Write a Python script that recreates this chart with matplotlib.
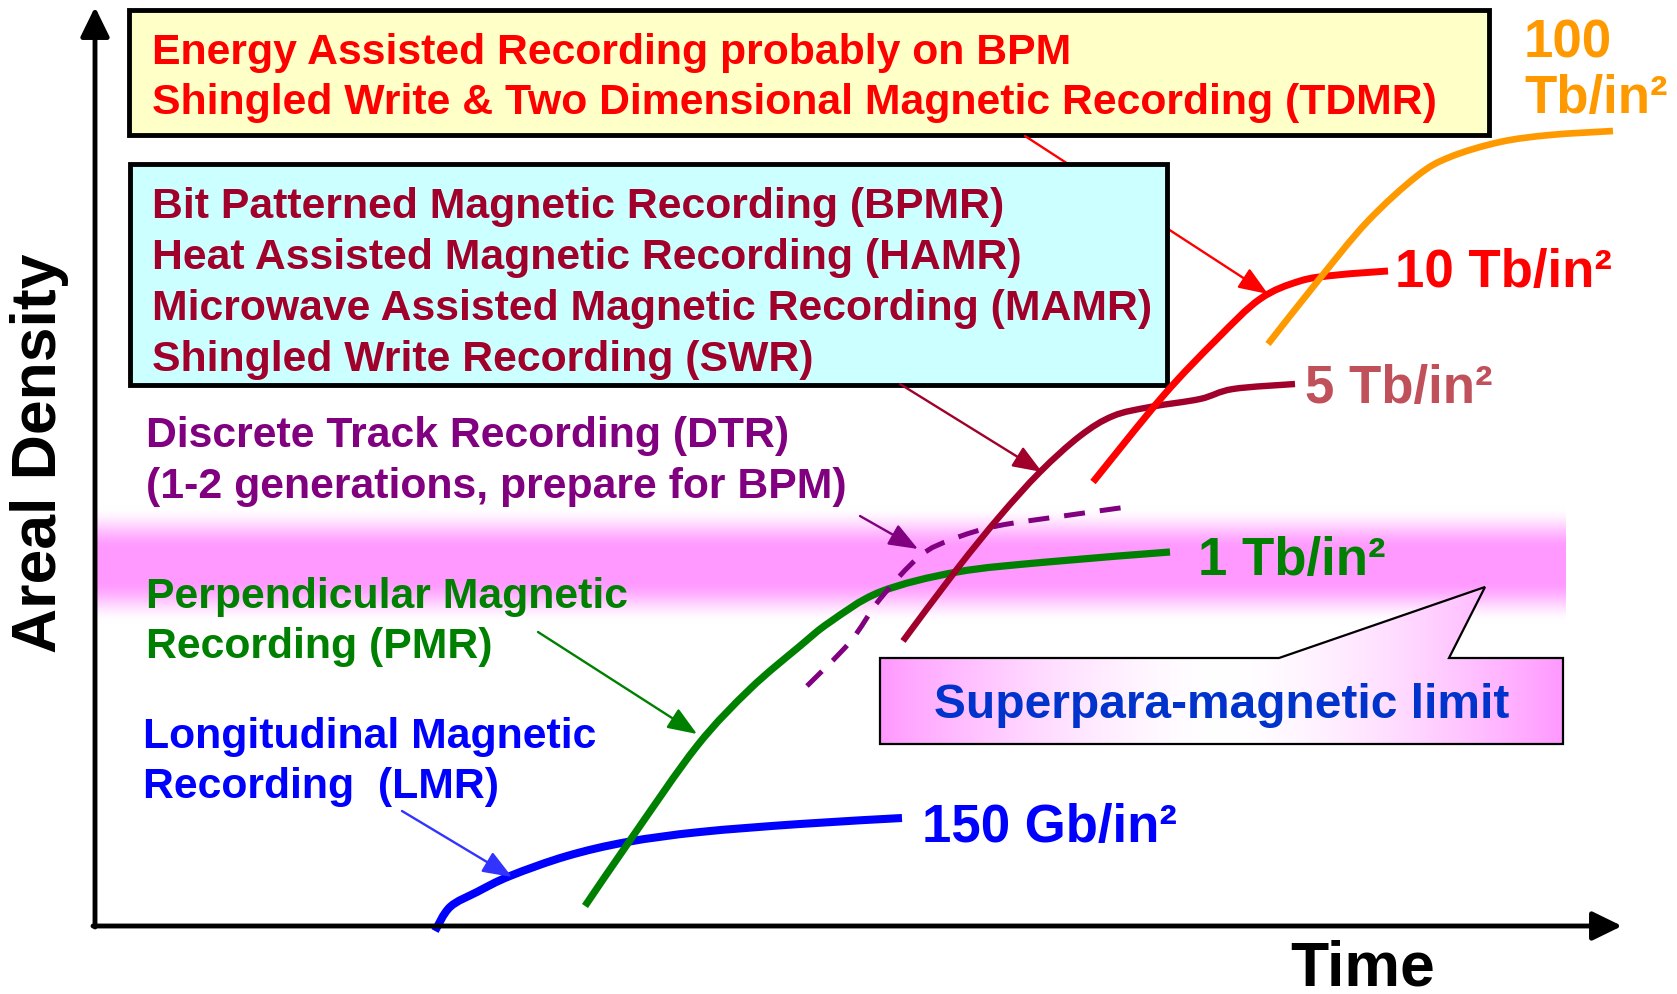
import numpy as np
import matplotlib
matplotlib.use("Agg")
import matplotlib.pyplot as plt
from matplotlib.patches import Rectangle, Polygon, PathPatch
from matplotlib.path import Path

plt.rcParams['font.family'] = ['Liberation Sans', 'DejaVu Sans']
plt.rcParams['font.weight'] = 'bold'

# curves (pixel coords, y grows downwards)
lmr_x = [435, 450, 477, 510, 567, 627, 700, 800, 902]
lmr_y = [932, 908, 893, 877, 857, 843, 833, 825, 819]

pmr_x = [585, 633, 697, 750, 800, 830, 880, 957, 1047, 1170]
pmr_y = [907, 837, 747, 690, 647, 623, 593, 573, 563, 553]

dtr_x = [807, 850, 880, 920, 953, 997, 1063, 1127]
dtr_y = [687, 643, 600, 557, 540, 527, 517, 508]

bpm_x = [903, 957, 1000, 1040, 1080, 1113, 1150, 1200, 1233, 1295]
bpm_y = [642, 570, 517, 473, 437, 417, 408, 400, 390, 385]

hamr_x = [1093, 1163, 1217, 1260, 1300, 1337, 1388]
hamr_y = [483, 397, 340, 300, 282, 276, 272]

future_x = [1268, 1317, 1367, 1417, 1450, 1500, 1550, 1613]
future_y = [345, 283, 223, 177, 158, 143, 136, 132]

yellow_lines = ["Energy Assisted Recording probably on BPM",
                "Shingled Write & Two Dimensional Magnetic Recording (TDMR)"]
cyan_lines = ["Bit Patterned Magnetic Recording (BPMR)",
              "Heat Assisted Magnetic Recording (HAMR)",
              "Microwave Assisted Magnetic Recording (MAMR)",
              "Shingled Write Recording (SWR)"]
dtr_lines = ["Discrete Track Recording (DTR)",
             "(1-2 generations, prepare for BPM)"]
pmr_lines = ["Perpendicular Magnetic", "Recording (PMR)"]
lmr_lines = ["Longitudinal Magnetic", "Recording  (LMR)"]

fig = plt.figure(figsize=(16.77, 9.95), dpi=100)
ax = fig.add_axes([0, 0, 1, 1])
ax.set_xlim(0, 1677)
ax.set_ylim(995, 0)
ax.axis('off')

pink = np.array([1.0, 0.6, 1.0])
white = np.array([1.0, 1.0, 1.0])

# superparamagnetic band
yy = np.linspace(505, 625, 240)
def smooth(t):
    t = np.clip(t, 0, 1)
    return t * t * (3 - 2 * t)
a = smooth((yy - 508) / 42) * smooth((624 - yy) / 42)
band = white * (1 - a[:, None]) + pink * a[:, None]
band = np.repeat(band[:, None, :], 2, axis=1)
ax.imshow(band, extent=[97, 1566, 625, 505], aspect='auto', zorder=0,
          interpolation='bilinear')

# axes with arrows
ax.annotate('', xy=(95, 8), xytext=(95, 928),
            arrowprops=dict(arrowstyle='-|>,head_length=0.45,head_width=0.22',
                            color='black', lw=3.5, mutation_scale=40,
                            shrinkA=0, shrinkB=0), zorder=5)
ax.annotate('', xy=(1622, 927), xytext=(93, 927),
            arrowprops=dict(arrowstyle='-|>,head_length=0.45,head_width=0.22',
                            color='black', lw=3.5, mutation_scale=40,
                            shrinkA=0, shrinkB=0), zorder=5)

ax.text(40, 453, "Areal Density", rotation=90, ha='center', va='center',
        fontsize=45, color='black')
ax.text(1290, 985, "Time", ha='left', va='baseline', fontsize=45, color='black')


def arrow(x0, y0, x1, y1, color, z=4):
    ax.annotate('', xy=(x1, y1), xytext=(x0, y0),
                arrowprops=dict(arrowstyle='-|>,head_length=0.9,head_width=0.35',
                                color=color, lw=1.7, mutation_scale=20,
                                shrinkA=0, shrinkB=0), zorder=z)


def curve(xs, ys, color, lw, dashes=None):
    # smooth path through the read points (Catmull-Rom as cubic Bezier)
    p = np.column_stack([xs, ys]).astype(float)
    ext = np.vstack([p[0], p, p[-1]])
    verts = [p[0]]
    codes = [Path.MOVETO]
    for i in range(1, len(ext) - 2):
        c1 = ext[i] + (ext[i + 1] - ext[i - 1]) / 6
        c2 = ext[i + 1] - (ext[i + 2] - ext[i]) / 6
        verts += [c1, c2, ext[i + 1]]
        codes += [Path.CURVE4] * 3
    patch = PathPatch(Path(verts, codes), fill=False, edgecolor=color, lw=lw,
                      capstyle='butt', joinstyle='round', zorder=4)
    if dashes is not None:
        patch.set_linestyle((0, dashes))
    ax.add_patch(patch)


# boxes
ax.add_patch(Rectangle((129, 11), 1360, 125, facecolor='#FFFFC8',
                       edgecolor='black', lw=3.5, zorder=3))
arrow(1025, 137, 1268, 295, '#FF0000', z=3)
ax.add_patch(Rectangle((130, 165), 1037, 221, facecolor='#CCFFFF',
                       edgecolor='black', lw=3.5, zorder=3.5))

fs = 30.8
for i, s in enumerate(yellow_lines):
    ax.text(152, 64 + 50 * i, s, ha='left', va='baseline', fontsize=fs,
            color='#FF0000', zorder=6)
for i, s in enumerate(cyan_lines):
    ax.text(152, 218 + 51 * i, s, ha='left', va='baseline', fontsize=fs,
            color='#A0002A', zorder=6)
for i, s in enumerate(dtr_lines):
    ax.text(146, 447 + 51 * i, s, ha='left', va='baseline', fontsize=fs,
            color='#800080', zorder=6)
for i, s in enumerate(pmr_lines):
    ax.text(146, 608 + 50 * i, s, ha='left', va='baseline', fontsize=fs,
            color='#008000', zorder=6)
for i, s in enumerate(lmr_lines):
    ax.text(143, 748 + 50 * i, s, ha='left', va='baseline', fontsize=fs,
            color='#0000FF', zorder=6)

# superparamagnetic callout
callout = [(880, 659), (1279, 659), (1485, 588), (1449, 659), (1563, 659),
           (1563, 745), (880, 745)]
xx = np.linspace(0, 1, 300)
w = 1 - np.abs(2 * xx - 1) ** 1.6
grad = pink * (1 - w[:, None]) + white * w[:, None]
grad = np.repeat(grad[None, :, :], 2, axis=0)
poly = Polygon(callout, closed=True, facecolor='none', edgecolor='black',
               lw=1.6, zorder=4)
im = ax.imshow(grad, extent=[880, 1563, 745, 585], aspect='auto', zorder=3.9,
               interpolation='bilinear')
ax.add_patch(poly)
im.set_clip_path(poly)
ax.text(1222, 718, "Superpara-magnetic limit", ha='center', va='baseline',
        fontsize=34.5, color='#0033CC', zorder=6)

# curves
curve(lmr_x, lmr_y, '#0000FF', 5.8)
curve(pmr_x, pmr_y, '#008000', 5.2)
curve(dtr_x, dtr_y, '#800080', 3.6, dashes=(4.2, 3.0))
curve(bpm_x, bpm_y, '#A0002A', 4.6)
curve(hamr_x, hamr_y, '#FF0000', 5.0)
curve(future_x, future_y, '#FF9900', 4.8)

# pointer arrows
arrow(538, 633, 697, 735, '#008000')
arrow(402, 812, 512, 878, '#3333FF')
arrow(860, 517, 918, 550, '#800080')
arrow(900, 385, 1042, 473, '#A0002A')

# curve end labels
ax.text(1524, 57, "100", ha='left', va='baseline', fontsize=38, color='#FF9900')
ax.text(1524, 113, "Tb/in²", ha='left', va='baseline', fontsize=38, color='#FF9900')
ax.text(1395, 287, "10 Tb/in²", ha='left', va='baseline', fontsize=38, color='#FF0000')
ax.text(1305, 403, "5 Tb/in²", ha='left', va='baseline', fontsize=38, color='#C0505A')
ax.text(1198, 575, "1 Tb/in²", ha='left', va='baseline', fontsize=38, color='#008000')
ax.text(922, 842, "150 Gb/in²", ha='left', va='baseline', fontsize=38, color='#0000FF')

fig.savefig("out.png", dpi=100)
